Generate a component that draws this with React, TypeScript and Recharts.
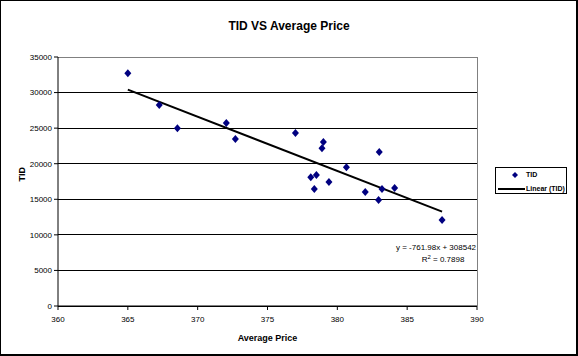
import React from "react";
import { ScatterChart, Scatter, XAxis, YAxis, CartesianGrid, ReferenceLine, Legend } from "recharts";

// average price (x) and TID (y)
const prices = [365.0, 367.25, 368.55, 372.05, 372.7, 377.0, 379.0, 378.9, 383.0, 380.65, 378.1, 378.5, 379.4, 378.35, 382.0, 383.2, 384.1, 382.95, 387.5];
const tids = [32700, 28250, 24980, 25720, 23470, 24320, 23050, 22160, 21650, 19490, 18090, 18410, 17430, 16450, 16020, 16450, 16590, 14900, 12090];

const xTicks = [360, 365, 370, 375, 380, 385, 390];
const yTicks = [0, 5000, 10000, 15000, 20000, 25000, 30000, 35000];

const trendSlope = -761.98;
const trendIntercept = 308542;
const rSquared = 0.7898;

const points = prices.map((p, i) => ({ price: p, tid: tids[i] }));
const xMin = Math.min(...prices);
const xMax = Math.max(...prices);
const trend = [xMin, xMax].map(p => ({ price: p, tid: trendSlope * p + trendIntercept }));

const font = "'Liberation Sans', Arial, sans-serif";

const Diamond = (props: any) => {
  const { cx, cy } = props;
  if (cx == null || cy == null) return <g />;
  return <polygon points={`${cx},${cy - 4} ${cx + 3.5},${cy} ${cx},${cy + 4} ${cx - 3.5},${cy}`} fill="#000080" />;
};

const LegendBox = () => (
  <div style={{ border: "1px solid #000", width: 72, height: 27, boxSizing: "border-box", fontFamily: font, fontSize: 7, fontWeight: "bold", position: "relative", background: "#fff", whiteSpace: "nowrap" }}>
    <svg width={70} height={25} style={{ position: "absolute", left: 0, top: 0 }}>
      <polygon points="19,4 22,7 19,10 16,7" fill="#000080" />
      <line x1={2} y1={21} x2={29} y2={21} stroke="#000" strokeWidth={2} />
    </svg>
    <span style={{ position: "absolute", left: 30, top: 2, lineHeight: "10px" }}>TID</span>
    <span style={{ position: "absolute", left: 30, top: 16, lineHeight: "10px" }}>Linear (TID)</span>
  </div>
);

export default function App() {
  return (
    <div style={{ position: "absolute", left: 0, top: 0, width: 578, height: 356, background: "#fff" }}>
      <ScatterChart width={578} height={356} margin={{ top: 57, right: 29, bottom: 0, left: 0 }}>
        <CartesianGrid stroke="#000" strokeOpacity={1} vertical={false} shapeRendering="crispEdges" />
        <XAxis
          type="number"
          dataKey="price"
          domain={[360, 390]}
          ticks={xTicks}
          height={50}
          stroke="#000"
          tickSize={4}
          tickMargin={6}
          tick={{ fill: "#000", fontSize: 8, fontFamily: font }}
          label={{ value: "Average Price", position: "insideBottom", offset: 15, fill: "#000", fontSize: 9, fontWeight: "bold", fontFamily: font }}
        />
        <YAxis
          type="number"
          dataKey="tid"
          domain={[0, 35000]}
          ticks={yTicks}
          width={58}
          stroke="#000"
          tickSize={4}
          tickMargin={2}
          tick={{ fill: "#000", fontSize: 8, fontFamily: font }}
          label={{ value: "TID", angle: -90, position: "insideLeft", offset: 22, fill: "#000", fontSize: 9, fontWeight: "bold", fontFamily: font }}
        />
        <ReferenceLine y={35000} stroke="#808080" shapeRendering="crispEdges" />
        <ReferenceLine x={390} stroke="#808080" shapeRendering="crispEdges" />
        <Scatter name="Linear (TID)" data={trend} line={{ stroke: "#000", strokeWidth: 2 }} shape={() => <g />} isAnimationActive={false} />
        <Scatter name="TID" data={points} shape={Diamond} isAnimationActive={false} />
        <Legend
          layout="vertical"
          align="right"
          verticalAlign="middle"
          content={() => <LegendBox />}
          wrapperStyle={{ width: 72, left: 495, top: 167, right: "auto" }}
        />
        <text x={289} y={30} textAnchor="middle" fontFamily={font} fontSize={12} fontWeight="bold" fill="#000">TID VS Average Price</text>
        <text x={436} y={250} textAnchor="middle" fontFamily={font} fontSize={8} fill="#000">{`y = ${trendSlope}x + ${trendIntercept}`}</text>
        <text x={443} y={262} textAnchor="middle" fontFamily={font} fontSize={8} fill="#000">
          R<tspan dy={-3} fontSize={6}>2</tspan><tspan dy={3}>{` = ${rSquared}`}</tspan>
        </text>
      </ScatterChart>
      <div style={{ position: "absolute", left: 0, top: 0, width: 578, height: 356, border: "1px solid #000", borderRightWidth: 2, borderBottomWidth: 2, boxSizing: "border-box", pointerEvents: "none" }} />
    </div>
  );
}
